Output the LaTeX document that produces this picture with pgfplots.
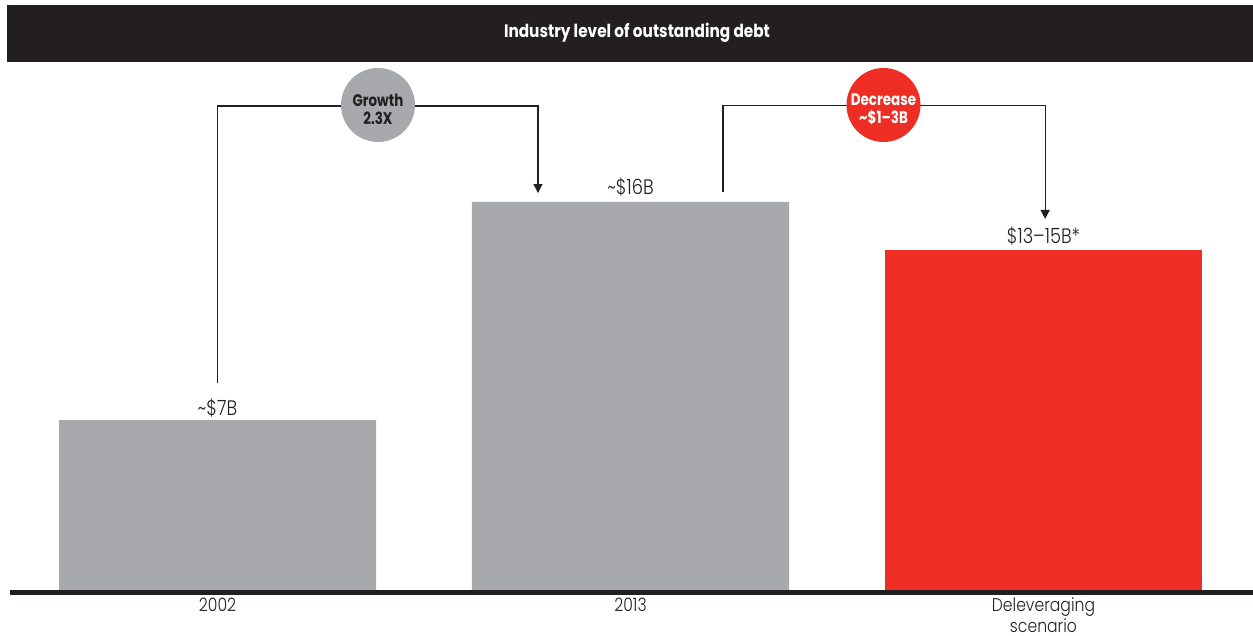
\documentclass[border=0pt]{standalone}
\usepackage{pgfplots}
\pgfplotsset{compat=1.18}
\usetikzlibrary{arrows.meta}
\usepackage{fontspec}
\setmainfont{Poppins}[FakeStretch=0.85]
\newfontfamily\lightf{Poppins Light}[FakeStretch=0.85]
\newfontfamily\boldf{Poppins}[FakeStretch=0.85]
\newfontfamily\circf{Poppins}[FakeStretch=0.8]
\definecolor{ink}{HTML}{231F20}
\definecolor{bargray}{HTML}{A7A9AC}
\definecolor{barred}{HTML}{EE2E24}
\begin{document}
\begin{tikzpicture}
\path[use as bounding box] (-3.5pt,-23pt) rectangle (623pt,295pt);
\begin{axis}[
  at={(0,0)}, anchor=south west,
  scale only axis, width=623pt, height=292.5pt,
  xmin=-0.5097, xmax=2.5073, ymin=0, ymax=24.124,
  enlargelimits=false, clip=false,
  axis line style={draw=none},
  major tick length=0pt,
  ytick=\empty,
  xtick={0,1,2},
  xticklabels={2002,2013,{Deleveraging\\scenario}},
  xticklabel style={font=\lightf\fontsize{9.2}{8.9}\selectfont, text=ink, align=center, anchor=north, yshift=-1.6pt, inner ysep=2pt},
]
\addplot[ybar, bar width=158.5pt, bar shift=0pt, fill=bargray, draw=none] coordinates {(0,7) (1,16)};
\addplot[ybar, bar width=158.5pt, bar shift=0pt, fill=barred, draw=none] coordinates {(2,14)};
% baseline
\draw[ink, line width=2.5pt] (axis cs:-0.5024,-0.103) -- (axis cs:2.5073,-0.103);
% title bar
\fill[ink] (rel axis cs:0,0.9026) rectangle (rel axis cs:1,1);
\node[text=white, font=\boldf\bfseries\fontsize{9}{11}\selectfont] at (rel axis cs:0.5056,0.952) {Industry level of outstanding debt};
% value labels
\node[text=ink, font=\lightf\fontsize{10.5}{12}\selectfont] at (axis cs:0,7.505) {\textasciitilde\$7B};
\node[text=ink, font=\lightf\fontsize{10.5}{12}\selectfont] at (axis cs:1,16.62) {\textasciitilde\$16B};
\node[text=ink, font=\lightf\fontsize{10.5}{12}\selectfont] at (axis cs:2,14.6) {\$13–15B*};
% brackets
\draw[ink, line width=0.6pt, -{Triangle[length=4.5pt,width=4.5pt]}] (axis cs:0,8.54) -- (axis cs:0,19.96) -- (axis cs:0.776,19.96) -- (axis cs:0.776,16.37);
\draw[ink, line width=0.6pt, -{Triangle[length=4.5pt,width=4.5pt]}] (axis cs:1.224,16.41) -- (axis cs:1.224,19.97) -- (axis cs:2.004,19.97) -- (axis cs:2.004,15.30);
% circles
\fill[bargray] (axis cs:0.3886,20.0) circle[radius=18.5pt];
\node[text=ink, align=center, font=\circf\bfseries\fontsize{8.4}{9}\selectfont] at ([yshift=-2pt]axis cs:0.3886,20.0) {Growth\\2.3X};
\fill[barred] (axis cs:1.6126,20.0) circle[radius=18.5pt];
\node[text=white, align=center, font=\circf\bfseries\fontsize{8.4}{9}\selectfont] at ([yshift=-2pt]axis cs:1.6126,20.0) {Decrease\\\textasciitilde\$1–3B};
\end{axis}
\end{tikzpicture}
\end{document}
